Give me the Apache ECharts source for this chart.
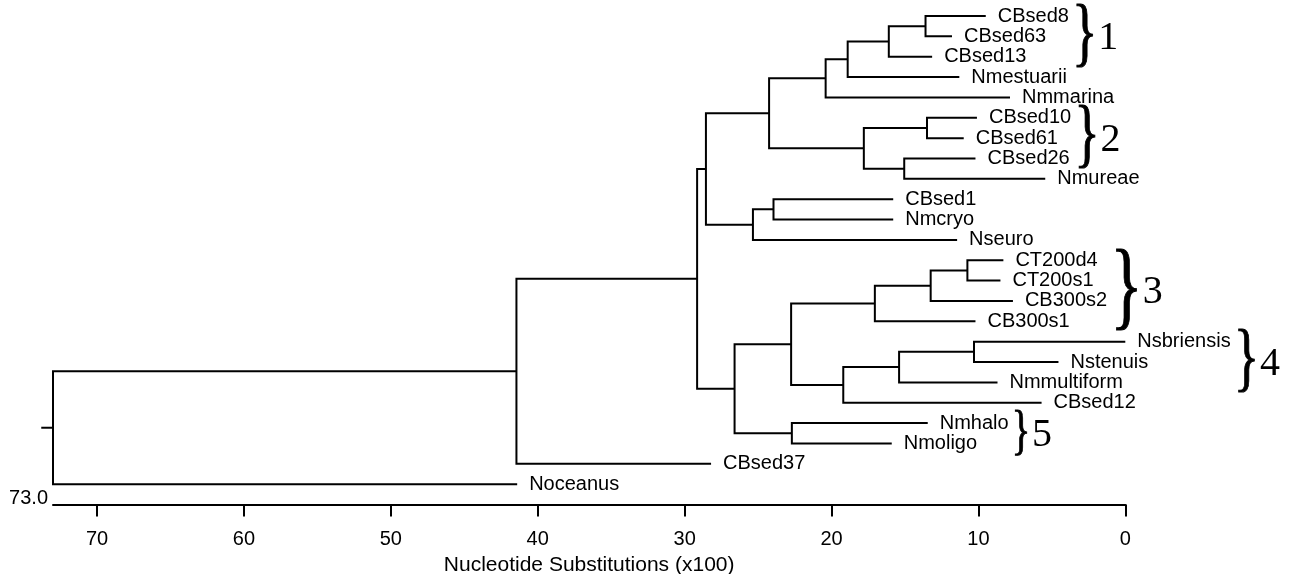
<!DOCTYPE html>
<html>
<head>
<meta charset="utf-8">
<script src="https://cdn.jsdelivr.net/npm/echarts@6/dist/echarts.min.js"></script>
<style>
  html, body { margin: 0; padding: 0; background: #fff; }
  #chart { width: 1296px; height: 574px; }
</style>
</head>
<body>
<div id="chart"></div>
<script>
// Leaves, listed top to bottom, and the depth (x100 substitutions) where each tip ends
const leaves = ['CBsed8', 'CBsed63', 'CBsed13', 'Nmestuarii', 'Nmmarina', 'CBsed10', 'CBsed61',
  'CBsed26', 'Nmureae', 'CBsed1', 'Nmcryo', 'Nseuro', 'CT200d4', 'CT200s1', 'CB300s2', 'CB300s1',
  'Nsbriensis', 'Nstenuis', 'Nmmultiform', 'CBsed12', 'Nmhalo', 'Nmoligo', 'CBsed37', 'Noceanus'];
const tipDepths = [9.5, 11.8, 13.15, 11.3, 7.85, 10.1, 11.0,
  10.2, 5.45, 15.8, 15.8, 11.45, 8.3, 8.5, 7.65, 10.2,
  0.0, 4.55, 8.7, 5.7, 13.45, 15.9, 28.2, 41.4];

// Internal clusters (children before parents) and the depth at which each pair joins
const clusterIds = ['a', 'b', 'c', 'd', 'e', 'f', 'g', 'h', 'i', 'j', 'k',
  'l', 'm', 'n', 'o', 'p', 'q', 'r', 's', 't', 'u', 'v', 'root'];
const clusterChildren = [
  ['CBsed8', 'CBsed63'], ['a', 'CBsed13'], ['b', 'Nmestuarii'], ['c', 'Nmmarina'],
  ['CBsed10', 'CBsed61'], ['CBsed26', 'Nmureae'], ['e', 'f'], ['d', 'g'],
  ['CBsed1', 'Nmcryo'], ['i', 'Nseuro'], ['h', 'j'],
  ['CT200d4', 'CT200s1'], ['l', 'CB300s2'], ['m', 'CB300s1'],
  ['Nsbriensis', 'Nstenuis'], ['o', 'Nmmultiform'], ['p', 'CBsed12'], ['n', 'q'],
  ['Nmhalo', 'Nmoligo'], ['r', 's'], ['k', 't'], ['u', 'CBsed37'], ['v', 'Noceanus']];
const clusterDepths = [13.6, 16.1, 18.9, 20.4, 13.5, 15.05, 17.8, 24.25,
  23.95, 25.35, 28.55, 10.75, 13.25, 17.05, 10.3, 15.4, 19.2, 22.75,
  22.7, 26.6, 29.15, 41.45, 73.0];
const rootStem = 0.8;

// Bracketed clusters
const groupNames = ['1', '2', '3', '4', '5'];
const groupMembers = [
  ['CBsed8', 'CBsed63', 'CBsed13'],
  ['CBsed10', 'CBsed61', 'CBsed26'],
  ['CT200d4', 'CT200s1', 'CB300s2', 'CB300s1'],
  ['Nsbriensis', 'Nstenuis', 'Nmmultiform'],
  ['Nmhalo', 'Nmoligo']];

// Scale
const tickValues = [0, 10, 20, 30, 40, 50, 60, 70];
const axisMax = 73;
const axisTitle = 'Nucleotide Substitutions (x100)';

const SANS = '"Liberation Sans", Arial, Helvetica, sans-serif';
const SERIF = '"Liberation Serif", "Times New Roman", serif';
const INK = '#000';
const LABEL_SIZE = 20;
const LABEL_GAP = 12;

// Tree layout: leaves on integer rows, each cluster midway between its two children
const depthOf = {}, rowOf = {};
leaves.forEach((n, i) => { depthOf[n] = tipDepths[i]; rowOf[n] = i; });
clusterIds.forEach((id, i) => {
  const [a, b] = clusterChildren[i];
  depthOf[id] = clusterDepths[i];
  rowOf[id] = (rowOf[a] + rowOf[b]) / 2;
});
const rootId = clusterIds[clusterIds.length - 1];

const branchData = clusterIds.map((id, i) => {
  const [a, b] = clusterChildren[i];
  return [depthOf[id], rowOf[a], rowOf[b], depthOf[a], depthOf[b]];
});
const leafData = leaves.map((n, i) => ({ name: n, value: [tipDepths[i], i] }));

const measureCtx = document.createElement('canvas').getContext('2d');
function textWidth(str, font) {
  measureCtx.font = font;
  return measureCtx.measureText(str).width;
}
const labelFont = LABEL_SIZE + 'px ' + SANS;

const chart = echarts.init(document.getElementById('chart'), null, { renderer: 'canvas' });

chart.setOption({
  animation: false,
  backgroundColor: '#fff',
  grid: { left: 53, right: 170.7, top: 16, bottom: 69.5, containLabel: false, outerBoundsMode: 'none' },
  xAxis: {
    type: 'value', inverse: true, min: 0, max: axisMax, interval: 10,
    name: axisTitle, nameLocation: 'middle', nameGap: 57,
    nameTextStyle: { fontFamily: SANS, fontSize: 21, color: INK, verticalAlign: 'middle' },
    axisLine: { show: true, onZero: false, lineStyle: { color: INK, width: 2 } },
    axisTick: { show: true, length: 12, lineStyle: { color: INK, width: 2 }, customValues: tickValues },
    axisLabel: { fontFamily: SANS, fontSize: 20, color: INK, margin: 25, customValues: tickValues },
    splitLine: { show: false }
  },
  yAxis: { type: 'value', inverse: true, min: 0, max: leaves.length, show: false },
  series: [
    {
      // each cluster: child tip -> join -> other child tip
      type: 'custom', name: 'branches', data: branchData, clip: false,
      renderItem(params, api) {
        const d = api.value(0), ra = api.value(1), rb = api.value(2);
        const da = api.value(3), db = api.value(4);
        return {
          type: 'polyline',
          shape: { points: [api.coord([da, ra]), api.coord([d, ra]), api.coord([d, rb]), api.coord([db, rb])] },
          style: { stroke: INK, lineWidth: 2, fill: null, lineJoin: 'miter' }
        };
      }
    },
    {
      // stem below the root
      type: 'custom', name: 'stem', clip: false,
      data: [[depthOf[rootId], rowOf[rootId]]],
      renderItem(params, api) {
        const d = api.value(0), r = api.value(1);
        const p0 = api.coord([d + rootStem, r]), p1 = api.coord([d, r]);
        return { type: 'line', shape: { x1: p0[0], y1: p0[1], x2: p1[0], y2: p1[1] },
          style: { stroke: INK, lineWidth: 2 } };
      }
    },
    {
      // leaf names at the branch tips
      type: 'custom', name: 'leaves', data: leafData, clip: false,
      renderItem(params, api) {
        const p = api.coord([api.value(0), api.value(1)]);
        return {
          type: 'text', x: p[0] + LABEL_GAP, y: p[1],
          style: { text: leaves[params.dataIndex], font: labelFont, fill: INK,
            textAlign: 'left', textVerticalAlign: 'middle' }
        };
      }
    },
    {
      // root depth written at the start of the scale
      type: 'custom', name: 'rootDepth', clip: false,
      data: [[depthOf[rootId], leaves.length]],
      renderItem(params, api) {
        const p = api.coord([api.value(0), api.value(1)]);
        return {
          type: 'text', x: p[0] - 5, y: p[1] + 4,
          style: { text: api.value(0).toFixed(1), font: '20px ' + SANS, fill: INK,
            textAlign: 'right', textVerticalAlign: 'bottom' }
        };
      }
    },
    {
      // curly brackets with cluster numbers
      type: 'custom', name: 'groups', clip: false,
      data: groupNames.map((g, i) => [i, 0]),
      renderItem(params, api) {
        const members = groupMembers[params.dataIndex];
        const rows = members.map(n => rowOf[n]);
        const top = Math.min(...rows), bot = Math.max(...rows);
        let right = 0;
        members.forEach(n => {
          const x = api.coord([depthOf[n], rowOf[n]])[0] + LABEL_GAP + textWidth(n, labelFont);
          right = Math.max(right, x);
        });
        const cy = api.coord([0, (top + bot) / 2])[1];
        const rowH = api.size([0, 1])[1];
        const h = rowH * (0.84 * members.length + 0.55);
        const stretch = 1.45;
        const fs = h / 0.81 / stretch;
        const bx = right + 3;
        return {
          type: 'group',
          children: [
            {
              type: 'text', x: bx, y: cy, scaleY: stretch,
              style: { text: '}', font: fs.toFixed(1) + 'px ' + SERIF, fill: INK,
                stroke: INK, lineWidth: 0.7,
                textAlign: 'left', textVerticalAlign: 'middle' }
            },
            {
              type: 'text', x: bx + 0.42 * fs + 4, y: cy + 2,
              style: { text: groupNames[params.dataIndex], font: '40px ' + SERIF, fill: INK,
                textAlign: 'left', textVerticalAlign: 'middle' }
            }
          ]
        };
      }
    }
  ]
});
</script>
</body>
</html>
